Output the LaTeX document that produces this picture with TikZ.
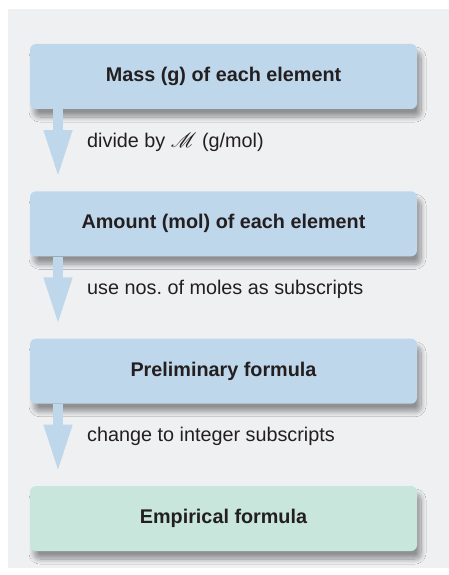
\documentclass[tikz,border=0pt]{standalone}
\usepackage{fontspec}
\setmainfont{Liberation Sans}
\usepackage{mathrsfs}
\usetikzlibrary{arrows.meta,shadows.blur}
\definecolor{pagebg}{HTML}{EFF0F2}
\definecolor{stepblue}{HTML}{BFD7EB}
\definecolor{stepgreen}{HTML}{C9E6DD}
\definecolor{inktext}{HTML}{231F20}
\frenchspacing
\begin{document}
\begin{tikzpicture}[x=1pt,y=-1pt,
    stepbox/.style={fill=stepblue, rounded corners=6pt, minimum width=387pt,
      minimum height=65pt, inner sep=0pt, text=inktext,
      font=\fontsize{19.8}{23}\selectfont\bfseries,
      blur shadow={shadow xshift=4pt, shadow yshift=-8pt, shadow blur radius=5pt,
        shadow blur steps=15, shadow opacity=40}},
    steplabel/.style={anchor=west, inner sep=0pt, text=inktext,
      font=\fontsize{19.8}{23}\selectfont},
    fatarrow/.style={draw=stepblue, line width=10pt,
      -{Triangle[width=26pt,length=48pt,fill=stepblue]}}]
  \useasboundingbox (0,0) rectangle (449,575);
  \fill[pagebg] (8,9) rectangle (449,568);
  % the four steps
  \node[stepbox] (mass) at (223.5,76.5) {Mass (g) of each element};
  \node[stepbox] (amount) at (223.5,223.8) {Amount (mol) of each element};
  \node[stepbox] (prelim) at (223.5,371.2) {Preliminary formula};
  \node[stepbox, fill=stepgreen] (empir) at (223.5,518.5) {Empirical formula};
  % arrows between them
  \coordinate (t1) at (58,178);
  \coordinate (t2) at (58,325.3);
  \coordinate (t3) at (58,472.6);
  \draw[fatarrow] (mass.south -| t1) -- (t1);
  \draw[fatarrow] (amount.south -| t2) -- (t2);
  \draw[fatarrow] (prelim.south -| t3) -- (t3);
  \node[steplabel] (l1) at (87,142) {divide by $\mathscr{M}$ (g/mol)};
  \node[steplabel] (l2) at (87,289.3) {use nos. of moles as subscripts};
  \node[steplabel] (l3) at (87,436.6) {change to integer subscripts};
\end{tikzpicture}
\end{document}
